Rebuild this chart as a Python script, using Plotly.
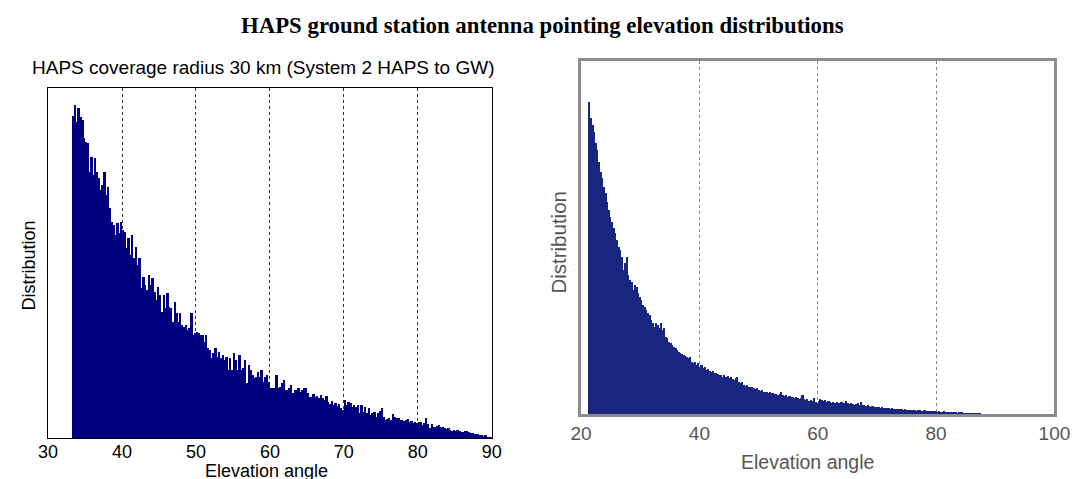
import plotly.graph_objects as go

# ---------------- data (distribution heights in arbitrary units) -------------
main_title = "HAPS ground station antenna pointing elevation distributions"
left_title = "HAPS coverage radius 30 km (System 2 HAPS to GW)"
x_label = "Elevation angle"
y_label = "Distribution"

left_bin_start = 33.3
left_bin_width = 0.25
left_values = [
    # 33.3 .. 51.3
    322, 333, 316, 330, 321, 318, 300, 296, 295, 266,
    281, 263, 280, 266, 260, 248, 253, 266, 243, 251,
    230, 216, 213, 203, 215, 205, 216, 208, 206, 190,
    200, 183, 203, 180, 191, 173, 180, 150, 161, 153,
    148, 163, 153, 160, 146, 138, 151, 143, 126, 143,
    130, 145, 131, 130, 116, 136, 125, 116, 125, 113,
    111, 113, 108, 110, 125, 103, 105, 106, 105, 103,
    103, 96,
    # 51.3 .. 67.05
    103, 90, 88, 80, 85, 90, 81, 86, 80, 83,
    78, 81, 68, 80, 68, 85, 78, 68, 83, 68,
    70, 78, 55, 73, 68, 63, 60, 61, 66, 61,
    68, 56, 61, 63, 56, 50, 50, 50, 63, 50,
    51, 55, 58, 48, 48, 50, 53, 45, 48, 48,
    50, 46, 48, 50, 50, 45, 41, 41, 44, 41,
    42, 40, 43,
    # 67.05 .. 69.8
    40, 38, 42, 36, 34, 37, 33, 35, 32, 34, 30,
    # 69.8 .. 90
    28, 38, 33, 36, 35, 31, 33, 31, 33, 25,
    33, 26, 31, 25, 30, 23, 25, 26, 21, 25,
    27, 30, 21, 18, 19, 20, 18, 24, 21, 20,
    20, 18, 18, 17, 18, 19, 16, 17, 15, 16,
    15, 16, 16, 13, 15, 20, 14, 10, 14, 11,
    11, 12, 13, 11, 11, 10, 9, 10, 8, 7,
    8, 7, 8, 7, 6, 6, 7, 7, 6, 5,
    5, 4, 4, 4, 3, 3, 2, 3, 1, 1,
    1,
]
left_ticks = [30, 40, 50, 60, 70, 80, 90]

right_bin_start = 21.3
right_bin_width = 0.275
right_values = [
    312, 296, 289, 282, 271, 264, 252, 242, 236, 227,
    221, 212, 204, 197, 192, 186, 181, 174, 167, 164,
    157, 144, 151, 157, 139, 134, 132, 124, 129, 127,
    121, 117, 114, 109, 107, 104, 101, 99, 94, 91,
    87, 91, 89, 86, 91, 84, 86, 77, 76, 72,
    71, 69, 67, 66, 64, 62, 61, 60, 59, 58,
    57, 56, 57, 52, 51, 52, 49, 51, 47, 49,
    46, 47, 44, 45, 43, 42, 43, 41, 41, 40,
    39, 39, 37,
    39, 37, 38, 36, 37, 35, 34, 36, 37, 32,
    31, 32, 29, 28, 29, 27, 27, 27, 26, 25,
    26, 24, 23, 24, 22, 22, 22, 21, 22, 21,
    21, 20, 20, 19, 20, 22, 19, 18, 19, 17,
    18, 17, 17, 16, 17, 16, 15, 16, 19, 15,
    14, 15, 13, 14, 13, 16, 12, 11, 13, 15,
    14, 13, 14, 12, 13, 12, 11, 12, 11, 12,
    11, 11, 12, 11, 11, 13, 11, 10, 11, 10,
    9, 10, 11, 9, 12, 9, 9, 8, 9, 8,
    7, 8, 7, 7, 7, 7, 6, 7, 6, 6,
    6, 6, 5, 6, 5, 5, 5, 5, 5, 5,
    4, 5, 4, 4, 4, 4, 4, 4, 3, 4,
    4, 3, 3, 4, 3, 3, 3, 3, 3, 3,
    3, 2, 3, 2, 2, 3, 2, 2, 2, 2,
    2, 2, 2, 1, 2, 2, 2, 1, 1, 1,
    1, 1, 1, 1, 1, 0.7, 0.6, 0.5,
]
right_ticks = [20, 40, 60, 80, 100]

# ---------------- figure ----------------
W, H = 1089, 479

def centers(start, width, n):
    return [start + width * (i + 0.5) for i in range(n)]

fig = go.Figure()
fig.add_trace(go.Bar(
    x=centers(left_bin_start, left_bin_width, len(left_values)), y=left_values,
    width=left_bin_width, marker=dict(color="#000080", line=dict(width=0)),
    xaxis="x", yaxis="y", showlegend=False, hoverinfo="skip"))
fig.add_trace(go.Bar(
    x=centers(right_bin_start, right_bin_width, len(right_values)), y=right_values,
    width=right_bin_width, marker=dict(color="#18267f", line=dict(width=0)),
    xaxis="x2", yaxis="y2", showlegend=False, hoverinfo="skip"))

def px_x(p):
    return p / W

def px_y(p):
    return 1 - p / H

font_l = dict(family="Liberation Sans, Arial, sans-serif", size=18, color="#000000")
font_lt = dict(family="Liberation Sans, Arial, sans-serif", size=19, color="#000000")
font_r = dict(family="Liberation Sans, Arial, sans-serif", size=19, color="#555555")

fig.update_layout(
    width=W, height=H,
    margin=dict(l=0, r=0, t=0, b=0),
    paper_bgcolor="white", plot_bgcolor="white",
    bargap=0,
    xaxis=dict(domain=[px_x(38), px_x(493)], range=[30, 90], tickvals=left_ticks,
               showgrid=True, gridcolor="#333333", griddash="dot", gridwidth=1,
               showline=True, linecolor="#000000", linewidth=1, mirror=True,
               ticks="", tickfont=font_l, ticklabelstandoff=-3,
               zeroline=False, anchor="y"),
    yaxis=dict(domain=[px_y(438), px_y(88)], range=[0, 350], showticklabels=False,
               showgrid=False, showline=True, linecolor="#000000", linewidth=1,
               mirror=True, ticks="", zeroline=False, anchor="x"),
    xaxis2=dict(domain=[px_x(584.5), px_x(1070)], range=[20, 100], tickvals=right_ticks,
                showgrid=True, gridcolor="#8a8a8a", griddash="dot", gridwidth=1,
                showline=True, linecolor="#8c8c8c", linewidth=2.5, mirror=True,
                ticks="", tickfont=font_r, zeroline=False, anchor="y2"),
    yaxis2=dict(domain=[px_y(414), px_y(61)], range=[0, 353], showticklabels=False,
                showgrid=False, showline=True, linecolor="#8c8c8c", linewidth=2.5,
                mirror=True, ticks="", zeroline=False, anchor="x2"),
    annotations=[
        dict(text=f"<b>{main_title}</b>", x=px_x(544.5), y=px_y(25), xref="paper", yref="paper",
             showarrow=False, xanchor="center", yanchor="middle",
             font=dict(family="Liberation Serif, Times New Roman, serif", size=22.8, color="#000000")),
        dict(text=left_title, x=px_x(258.5), y=px_y(67), xref="paper", yref="paper",
             showarrow=False, xanchor="center", yanchor="middle", font=font_lt),
        dict(text=x_label, x=px_x(262.5), y=px_y(471), xref="paper", yref="paper",
             showarrow=False, xanchor="center", yanchor="middle", font=font_l),
        dict(text=y_label, x=px_x(18), y=px_y(266), xref="paper", yref="paper",
             showarrow=False, xanchor="center", yanchor="middle", textangle=-90, font=font_l),
        dict(text=x_label, x=px_x(816.5), y=px_y(462), xref="paper", yref="paper",
             showarrow=False, xanchor="center", yanchor="middle",
             font=dict(family="Liberation Sans, Arial, sans-serif", size=19.5, color="#555555")),
        dict(text=y_label, x=px_x(561), y=px_y(242.5), xref="paper", yref="paper",
             showarrow=False, xanchor="center", yanchor="middle", textangle=-90,
             font=dict(family="Liberation Sans, Arial, sans-serif", size=20.5, color="#555555")),
    ],
)

fig.write_html("out.html")
